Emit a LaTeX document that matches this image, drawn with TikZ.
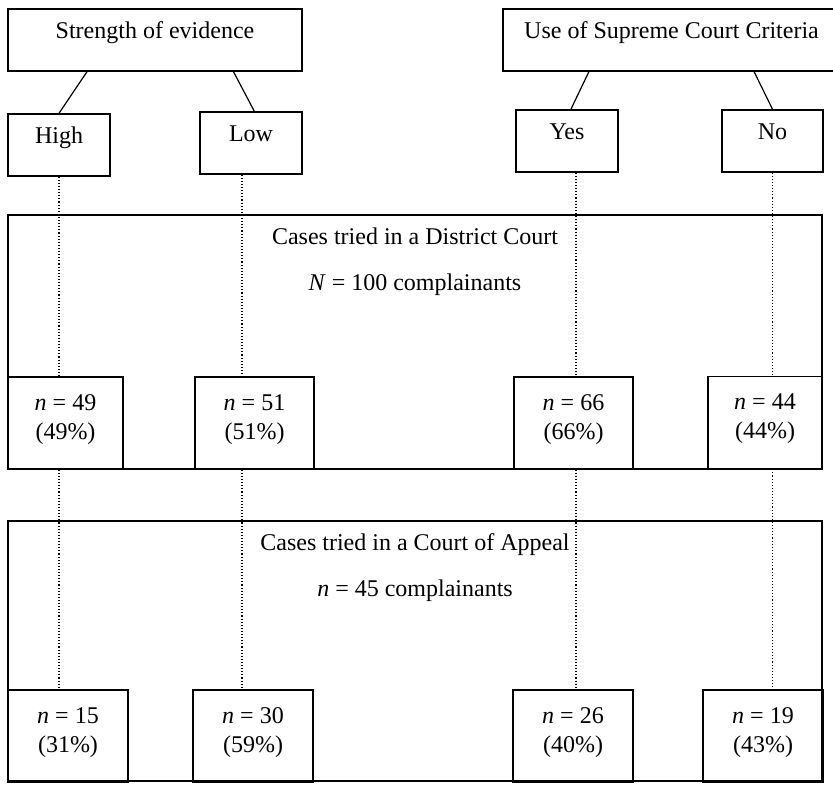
\documentclass[tikz,border=0pt]{standalone}
\usepackage{fontspec}
\setmainfont{Liberation Serif}
\usetikzlibrary{positioning}

\begin{document}
\begin{tikzpicture}[x=0.5pt,y=-0.5pt,
    every node/.style={font=\fontsize{12}{14.5}\selectfont},
    box/.style={draw,line width=0.7pt,inner sep=0pt},
    head/.style={box,minimum width=#1,minimum height=31pt,text height=8pt,text depth=9pt},
    cnt/.style={box,align=center,minimum width=#1,minimum height=46pt,text depth=6pt},
    court/.style={box,minimum width=407pt,minimum height=#1},
    courttext/.style={anchor=north,align=center,yshift=-3pt,font=\fontsize{12}{23}\selectfont},
    link/.style={line width=0.6pt},
    trace/.style={densely dotted,line width=0.55pt}]
  \useasboundingbox (0,0) rectangle (833,785);

  % factors
  \node[head=147pt] (sev) at (155,40) {Strength of evidence};
  \node[head=168.5pt] (crit) at (671.5,40) {Use of Supreme Court Criteria};
  \node[head=51pt] (high) at (59,145) {High};
  \node[head=51pt] (low) at (251,143) {Low};
  \node[head=51pt] (yes) at (567,141) {Yes};
  \node[head=50.5pt] (no) at (772.5,141) {No};

  % district court
  \node[court=127pt,label={[courttext]north:Cases tried in a District Court\\\textit{N} = 100 complainants}] (district) at (415,342) {};
  \node[cnt=57.5pt] (d1) at (65.5,423) {\textit{n} = 49\\(49\%)};
  \node[cnt=59.5pt] (d2) at (254.5,423) {\textit{n} = 51\\(51\%)};
  \node[cnt=59.5pt] (d3) at (573.5,423) {\textit{n} = 66\\(66\%)};
  \node[cnt=57pt] (d4) at (765,422.5) {\textit{n} = 44\\(44\%)};

  % court of appeal
  \node[court=130pt,label={[courttext]north:Cases tried in a Court of Appeal\\\textit{n} = 45 complainants}] (appeal) at (415,651) {};
  \node[cnt=60pt] (a1) at (68,736) {\textit{n} = 15\\(31\%)};
  \node[cnt=60pt] (a2) at (253,736) {\textit{n} = 30\\(59\%)};
  \node[cnt=60pt] (a3) at (573,736) {\textit{n} = 26\\(40\%)};
  \node[cnt=60pt] (a4) at (763,736) {\textit{n} = 19\\(43\%)};

  \path[link]
    (sev.205) edge (high.north)
    (sev.-22) edge (low.84)
    (crit.201) edge (yes.83)
    (crit.-21.5) edge (no.north);

  \path[trace]
    (high.south) edge (high.south |- d1.north)
    (high.south |- d1.south) edge (high.south |- a1.north)
    ([xshift=-4.5pt]low.south) edge ([xshift=-4.5pt]low.south |- d2.north)
    ([xshift=-4.5pt]low.south |- d2.south) edge ([xshift=-4.5pt]low.south |- a2.north)
    ([xshift=4.5pt]yes.south) edge ([xshift=4.5pt]yes.south |- d3.north)
    ([xshift=4.5pt]yes.south |- d3.south) edge ([xshift=4.5pt]yes.south |- a3.north)
    (no.south) edge (no.south |- d4.north)
    (no.south |- d4.south) edge (no.south |- a4.north);
\end{tikzpicture}
\end{document}
